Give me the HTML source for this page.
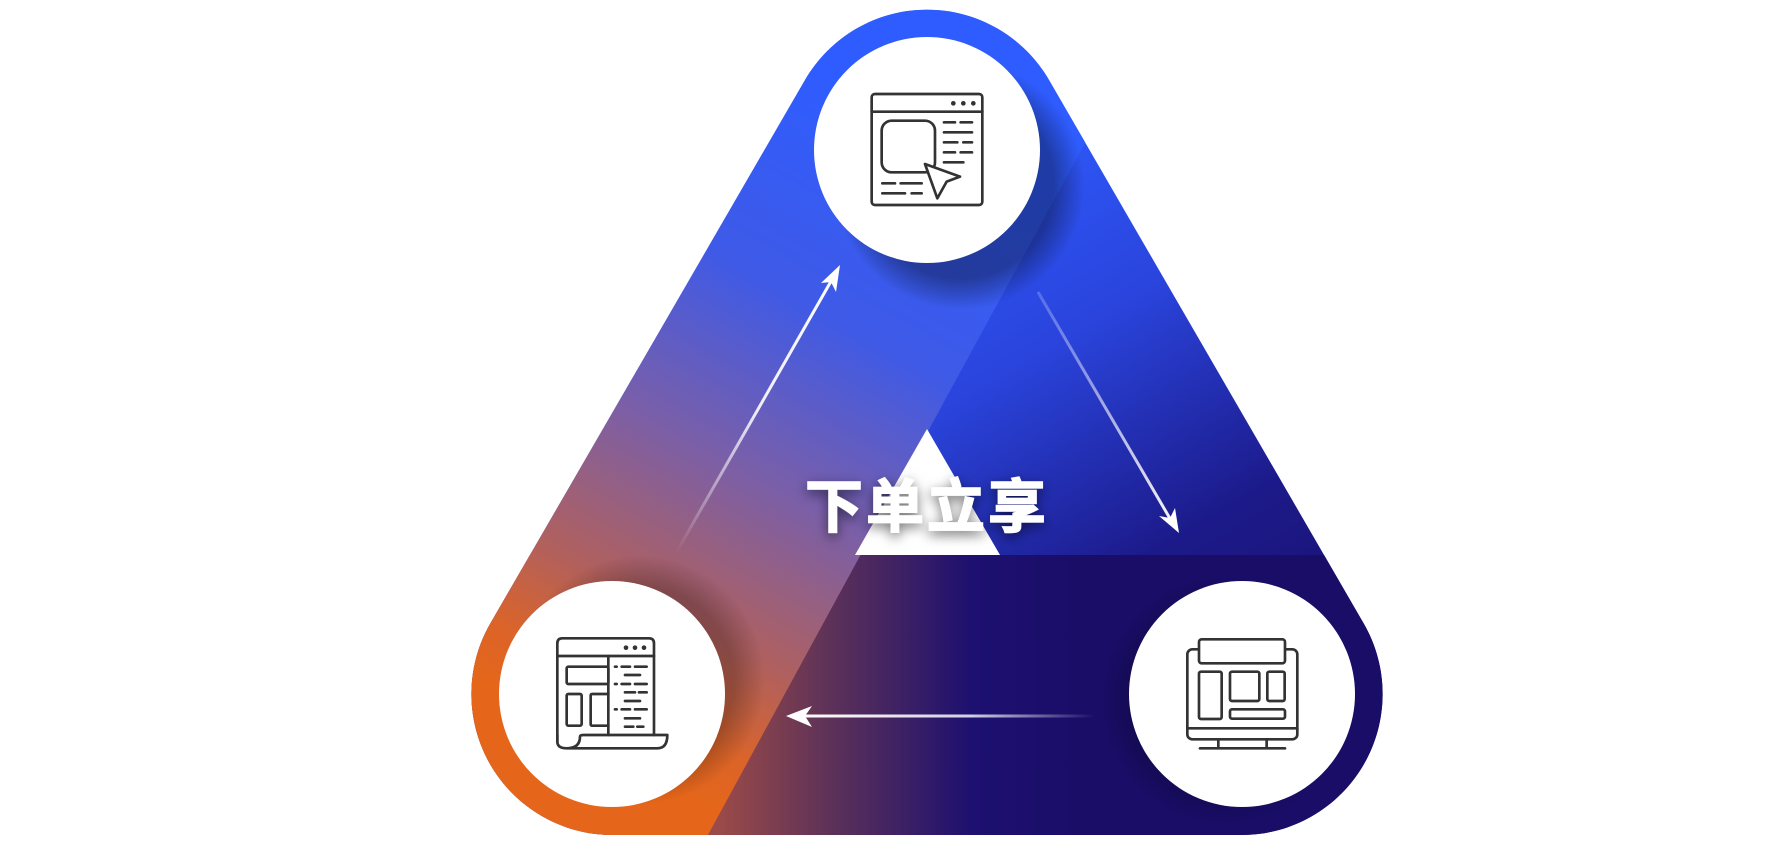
<!DOCTYPE html>
<html><head><meta charset="utf-8"><style>
html,body{margin:0;padding:0;background:#fff;}
svg{display:block;}
</style></head><body>
<svg width="1777" height="844" viewBox="0 0 1777 844" xmlns="http://www.w3.org/2000/svg">
<defs>
<clipPath id="hull"><path d="M612 835 A141 141 0 0 1 490 624 L805 80 A141 141 0 0 1 1049 80 L1364 624 A141 141 0 0 1 1242 835 Z"/></clipPath>
<linearGradient id="gR" gradientUnits="userSpaceOnUse" x1="927" y1="150" x2="1260" y2="720">
<stop offset="0" stop-color="#2f5cff"/><stop offset="0.35" stop-color="#2a44dc"/><stop offset="0.7" stop-color="#1c1a8a"/><stop offset="1" stop-color="#1a0f6e"/></linearGradient>
<linearGradient id="gL" gradientUnits="userSpaceOnUse" x1="960" y1="150" x2="620" y2="760">
<stop offset="0" stop-color="#2f5cff"/><stop offset="0.3" stop-color="#3f5ae6"/><stop offset="0.55" stop-color="#7a5fa8"/><stop offset="0.78" stop-color="#b0605e"/><stop offset="0.92" stop-color="#dc6428"/><stop offset="1" stop-color="#e5661a"/></linearGradient>
<linearGradient id="gB" gradientUnits="userSpaceOnUse" x1="720" y1="0" x2="1080" y2="0">
<stop offset="0" stop-color="#9a4a48"/><stop offset="0.3" stop-color="#5e3258"/><stop offset="0.7" stop-color="#1d1070"/><stop offset="1" stop-color="#190d68"/></linearGradient>
<linearGradient id="a1" gradientUnits="userSpaceOnUse" x1="676" y1="553" x2="840" y2="265"><stop offset="0" stop-color="#fff" stop-opacity="0"/><stop offset="0.5" stop-color="#fff" stop-opacity="0.9"/><stop offset="1" stop-color="#fff"/></linearGradient>
<linearGradient id="a2" gradientUnits="userSpaceOnUse" x1="1038" y1="292" x2="1179" y2="533"><stop offset="0" stop-color="#fff" stop-opacity="0.2"/><stop offset="1" stop-color="#fff"/></linearGradient>
<linearGradient id="a3" gradientUnits="userSpaceOnUse" x1="1095" y1="0" x2="786" y2="0"><stop offset="0" stop-color="#fff" stop-opacity="0"/><stop offset="0.4" stop-color="#fff" stop-opacity="0.8"/><stop offset="1" stop-color="#fff"/></linearGradient>
<radialGradient id="sh" cx="0.5" cy="0.5" r="0.5"><stop offset="0.75" stop-color="#000" stop-opacity="0.35"/><stop offset="1" stop-color="#000" stop-opacity="0"/></radialGradient>
<filter id="ts" x="-20%" y="-40%" width="140%" height="180%"><feDropShadow dx="0" dy="4" stdDeviation="6" flood-color="#000" flood-opacity="0.55"/></filter>
</defs>
<g clip-path="url(#hull)">
<rect x="400" y="0" width="1000" height="844" fill="url(#gR)"/>
<rect x="400" y="555" width="1000" height="300" fill="url(#gB)"/>
<polygon points="400,844 703,844 1163,0 700,0 400,500" fill="url(#gL)"/>
<circle cx="960" cy="185" r="125" fill="url(#sh)"/>
<circle cx="640" cy="680" r="125" fill="url(#sh)" opacity="0.7"/>
<circle cx="1225" cy="700" r="125" fill="url(#sh)" opacity="0.6"/>
</g>
<polygon points="927,429 1000,555 855,555" fill="#fff"/>
<circle cx="927" cy="150" r="113" fill="#fff"/>
<circle cx="612" cy="694" r="113" fill="#fff"/>
<circle cx="1242" cy="694" r="113" fill="#fff"/>

<line x1="676" y1="553" x2="834" y2="276" stroke="url(#a1)" stroke-width="3"/>
<polygon points="840,265 836,292 831,282 821,283" fill="#fff"/>
<line x1="1038" y1="292" x2="1172" y2="522" stroke="url(#a2)" stroke-width="3"/>
<polygon points="1179,533 1159,516 1170,518 1175,508" fill="#fff"/>
<line x1="1095" y1="716" x2="797" y2="716" stroke="url(#a3)" stroke-width="3"/>
<polygon points="786,716 812,706 805,716 812,727" fill="#fff"/>

<text x="927" y="527" text-anchor="middle" font-family="Liberation Sans, Noto Sans CJK SC, sans-serif" font-weight="bold" font-size="58" fill="#fff" stroke="#fff" stroke-width="1.5" letter-spacing="3" filter="url(#ts)">下单立享</text>

<g transform="translate(850,80) scale(0.3333)" fill="none" stroke="#333" stroke-width="8" stroke-linecap="round" stroke-linejoin="round">
<rect x="65" y="42" width="332" height="333" rx="10"/>
<line x1="65" y1="95" x2="397" y2="95"/>
<circle cx="310" cy="70" r="3" fill="#333"/><circle cx="340" cy="70" r="3" fill="#333"/><circle cx="370" cy="70" r="3" fill="#333"/>
<rect x="95" y="122" width="160" height="155" rx="30"/>
<path d="M282 127H315M332 127H366M282 157H366M282 187H322M340 187H366M282 217H315M332 217H366M282 247H340M97 310H135M152 310H215M97 340H165M185 340H215"/>
<polygon points="225,252 330,290 290,305 262,355" fill="#fff"/>
</g>
<g transform="translate(540,620) scale(0.3333)" fill="none" stroke="#333" stroke-width="8" stroke-linecap="round" stroke-linejoin="round">
<path d="M52 365V70Q52 55 67 55H327Q342 55 342 70V345"/>
<line x1="52" y1="108" x2="342" y2="108"/>
<circle cx="258" cy="83" r="3" fill="#333"/><circle cx="285" cy="83" r="3" fill="#333"/><circle cx="312" cy="83" r="3" fill="#333"/>
<line x1="205" y1="108" x2="205" y2="345"/>
<rect x="80" y="140" width="125" height="52" rx="5"/>
<rect x="80" y="222" width="45" height="95" rx="5"/>
<path d="M205 222H157Q152 222 152 227V312Q152 317 157 317H205"/>
<path d="M225 140H230M245 140H270M285 140H320M255 165H300M225 192H230M245 192H270M285 192H320M255 217H285M297 217H320M255 243H300M225 268H230M245 268H270M285 268H320M255 295H300M255 320H280M292 320H310"/>
<path d="M52 345V365Q52 385 80 385Q120 385 120 350Q120 345 130 345H382Q382 385 352 385H80"/>
</g>
<g transform="translate(1170,620) scale(0.3333)" fill="none" stroke="#333" stroke-width="8" stroke-linecap="round" stroke-linejoin="round">
<rect x="52" y="88" width="330" height="270" rx="15"/>
<line x1="52" y1="325" x2="382" y2="325"/>
<rect x="87" y="58" width="258" height="72" rx="8" fill="#fff"/>
<rect x="87" y="155" width="68" height="142" rx="6"/>
<rect x="180" y="155" width="88" height="88" rx="6"/>
<rect x="292" y="155" width="52" height="88" rx="6"/>
<rect x="180" y="268" width="165" height="28" rx="6"/>
<path d="M145 358V385M290 358V385M90 385H345"/>
</g>
</svg>
</body></html>
